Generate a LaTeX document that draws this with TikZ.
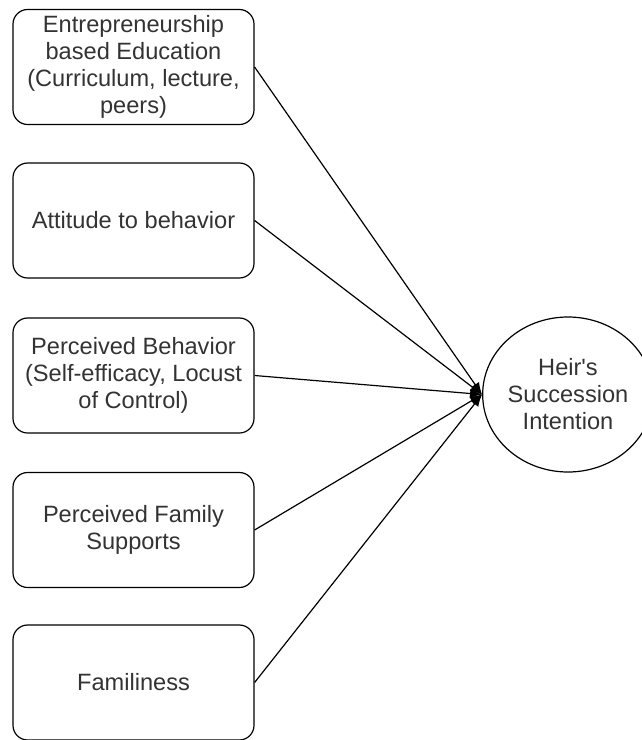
\documentclass[tikz,border=0pt]{standalone}
\usepackage{fontspec}
\setmainfont{Liberation Sans}
\usetikzlibrary{arrows.meta,shapes.geometric}
\definecolor{txt}{HTML}{333333}
\tikzset{
  box/.style={draw=black, line width=0.9pt, rounded corners=11pt, minimum width=241*0.75pt, minimum height=115*0.75pt, inner sep=0pt, align=center, text=txt, font=\fontsize{17.7}{20.25}\selectfont},
  target/.style={draw=black, line width=0.9pt, ellipse, minimum width=146*0.75pt, minimum height=155*0.75pt, inner sep=0pt, align=center, text=txt, font=\fontsize{17.7}{20.25}\selectfont},
  link/.style={draw=black, line width=0.9pt, -{Latex[length=9pt,width=7pt]}}
}
\begin{document}
\begin{tikzpicture}[x=0.75pt,y=-0.75pt]
\useasboundingbox (0,0) rectangle (642,740);
\node[box] (b1) at (133.5,67) {Entrepreneurship\\based Education\\(Curriculum, lecture,\\peers)};
\node[box] (b2) at (133.5,220.5) {Attitude to behavior};
\node[box] (b3) at (133.5,375.5) {Perceived Behavior\\(Self-efficacy, Locust\\of Control)};
\node[box] (b4) at (133.5,530) {Perceived Family\\Supports};
\node[box] (b5) at (133.5,682.5) {Familiness};
\node[target] (t) at (568,394.5) {Heir\textquotesingle s\\Succession\\Intention};
\foreach \b in {b1,b2,b3,b4,b5} \draw[link] (\b.east) -- (t.west);
\end{tikzpicture}
\end{document}
